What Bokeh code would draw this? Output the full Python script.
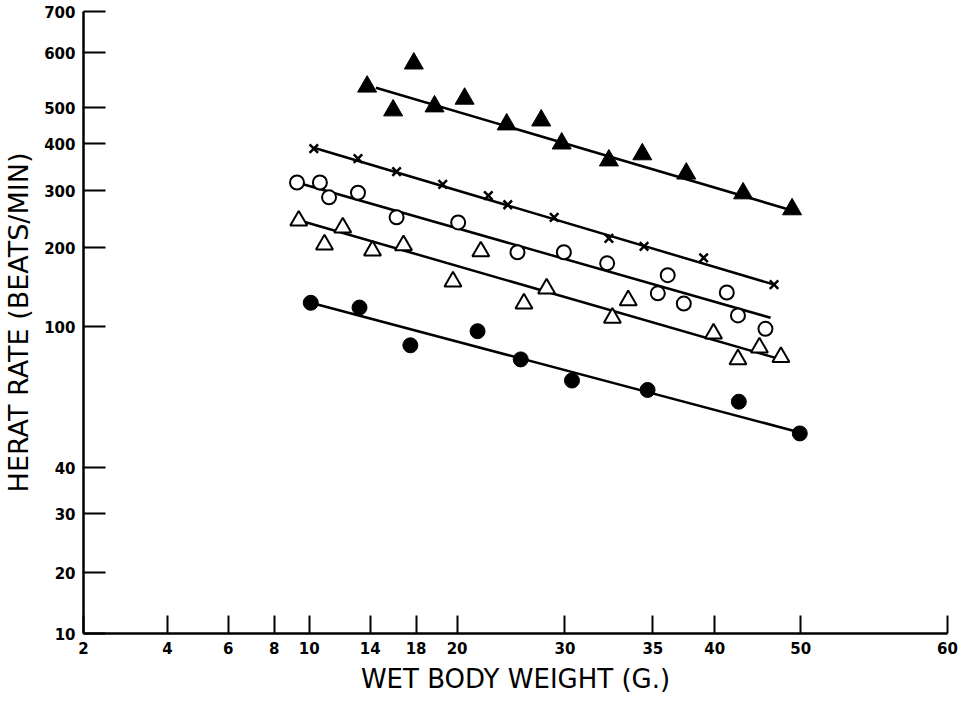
import numpy as np
from bokeh.plotting import figure
from bokeh.models import Range1d, FixedTicker
from bokeh.embed import file_html
from bokeh.resources import INLINE

# ---- axis tick values (the original hand-drawn axes are irregular) ----
x_tick_values = [2, 4, 6, 8, 10, 14, 18, 20, 30, 35, 40, 50, 60]
y_tick_values = [10, 20, 30, 40, 100, 200, 300, 400, 500, 600, 700]

# ---- data: wet body weight (g) and heart rate (beats/min) ----
tri_fill_w = [13.8, 16.0, 17.8, 18.9, 20.7, 24.6, 27.8, 29.7, 32.5, 34.4, 37.7, 43.3, 49.0]
tri_fill_hr = [538, 492, 580, 502, 516, 453, 464, 400, 364, 377, 336, 295, 267]
tri_fill_fit_w = [14.5, 49.0]
tri_fill_fit_hr = [536, 265]

cross_w = [10.3, 13.2, 16.3, 19.3, 22.9, 24.7, 29.0, 32.5, 34.5, 39.1, 46.9]
cross_hr = [389, 368, 340, 313, 291, 275, 253, 216, 202, 187, 153]
cross_fit_w = [10.3, 46.9]
cross_fit_hr = [391, 153]

circ_open_w = [9.3, 10.7, 11.3, 13.2, 16.3, 20.1, 25.6, 29.9, 32.4, 36.2, 35.4, 37.5, 41.4, 42.7, 45.9]
circ_open_hr = [317, 317, 288, 296, 253, 244, 194, 194, 180, 165, 142, 129, 143, 114, 99]
circ_open_fit_w = [9.5, 46.5]
circ_open_fit_hr = [315, 111]

tri_open_w = [9.4, 11.0, 12.2, 14.2, 16.9, 19.8, 22.2, 26.2, 28.3, 32.7, 33.6, 39.9, 42.7, 45.2, 47.7]
tri_open_hr = [247, 205, 235, 196, 204, 157, 195, 129, 148, 111, 133, 97, 86, 91, 87]
tri_open_fit_w = [9.5, 47.7]
tri_open_fit_hr = [247, 86]

circ_fill_w = [10.1, 13.3, 17.5, 21.9, 25.9, 30.4, 34.7, 42.8, 49.9]
circ_fill_hr = [130, 124, 92, 98, 86, 77, 73, 68, 54.5]
circ_fill_fit_w = [10.1, 50.2]
circ_fill_fit_hr = [130, 54.5]

# ---- axis layout (position of each tick along its axis, in axis units) ----
X_TICK_POS = [0, 84, 145, 191, 226, 287, 333, 374, 482, 570, 632, 718, 865]
Y_TICK_POS = [0, 61, 120, 166, 307, 386, 443, 490, 526, 581, 622]


def tx(v):
    return np.interp(v, x_tick_values, X_TICK_POS)


def ty(v):
    return np.interp(v, y_tick_values, Y_TICK_POS)


p = figure(width=961, height=702, output_backend="svg", toolbar_location=None,
           x_range=Range1d(0, X_TICK_POS[-1]), y_range=Range1d(0, Y_TICK_POS[-1]),
           min_border_left=82, min_border_right=14, min_border_top=11, min_border_bottom=69)
p.outline_line_color = None
p.xgrid.grid_line_color = None
p.ygrid.grid_line_color = None
p.background_fill_color = "white"
p.border_fill_color = "white"

FONT = "DejaVu Sans"

xa = p.xaxis[0]
xa.ticker = FixedTicker(ticks=X_TICK_POS)
xa.major_label_overrides = {pos: str(v) for pos, v in zip(X_TICK_POS, x_tick_values)}
xa.axis_label = "WET BODY WEIGHT (G.)"

ya = p.yaxis[0]
ya.ticker = FixedTicker(ticks=Y_TICK_POS)
ya.major_label_overrides = {pos: str(v) for pos, v in zip(Y_TICK_POS, y_tick_values)}
ya.axis_label = "HERAT RATE (BEATS/MIN)"

for ax, tin, lab_size in ((xa, 18, "26px"), (ya, 22, "27px")):
    ax.axis_line_width = 2.5
    ax.axis_line_color = "black"
    ax.major_tick_line_width = 2
    ax.major_tick_line_color = "black"
    ax.major_tick_in = tin
    ax.major_tick_out = 0
    ax.minor_tick_line_color = None
    ax.major_label_text_font = FONT
    ax.major_label_text_font_size = "15px"
    ax.major_label_text_font_style = "bold"
    ax.major_label_text_color = "black"
    ax.major_label_standoff = 8
    ax.axis_label_text_font = FONT
    ax.axis_label_text_font_size = lab_size
    ax.axis_label_text_font_style = "normal"
    ax.axis_label_text_color = "black"
    ax.axis_label_standoff = 7

LW = 2.5

# fitted lines
for fw, fh in ((tri_fill_fit_w, tri_fill_fit_hr), (cross_fit_w, cross_fit_hr),
               (circ_open_fit_w, circ_open_fit_hr), (tri_open_fit_w, tri_open_fit_hr),
               (circ_fill_fit_w, circ_fill_fit_hr)):
    p.line(x=tx(fw), y=ty(fh), line_color="black", line_width=LW)

# markers
p.scatter(x=tx(tri_fill_w), y=ty(tri_fill_hr), marker="triangle", size=19,
          fill_color="black", line_color="black", line_width=1)
p.scatter(x=tx(cross_w), y=ty(cross_hr), marker="x", size=12,
          line_color="black", line_width=2.5)
p.scatter(x=tx(circ_open_w), y=ty(circ_open_hr), marker="circle", size=14,
          fill_color="white", line_color="black", line_width=2)
p.scatter(x=tx(tri_open_w), y=ty(tri_open_hr), marker="triangle", size=17,
          fill_color="white", line_color="black", line_width=2)
p.scatter(x=tx(circ_fill_w), y=ty(circ_fill_hr), marker="circle", size=15,
          fill_color="black", line_color="black", line_width=1)

open("out.html", "w").write(file_html(p, INLINE))
